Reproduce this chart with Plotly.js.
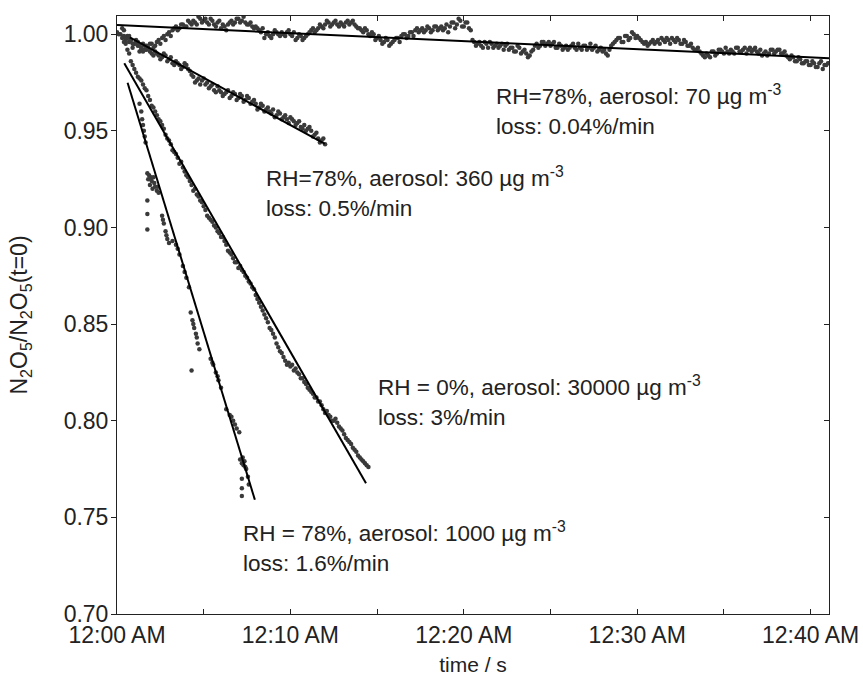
<!DOCTYPE html>
<html>
<head>
<meta charset="utf-8">
<script src="https://cdn.plot.ly/plotly-3.0.1.min.js"></script>
<style>html,body{margin:0;padding:0;background:#fff;}#chart{width:863px;height:679px;}</style>
</head>
<body>
<div id="chart"></div>
<script>
// ---- data (time in minutes after 12:00 AM) ----
var tickMinutes = [0, 10, 20, 30, 40];
var tickLabels = ['12:00 AM', '12:10 AM', '12:20 AM', '12:30 AM', '12:40 AM'];
var minorMinutes = [5, 15, 25, 35];

// RH=78%, 70 ug/m3 : two interleaved sample sets (min, 0.2 min spacing)
var s1Start = 0.0, s1Step = 0.2;
var s1Values = [
  1.001, 1.000, 1.002, 0.999, 0.997, 0.995, 0.994, 0.992, 0.994, 0.993,
  0.995, 0.994, 0.997, 0.998, 0.997, 1.001, 1.002, 1.004, 1.003, 1.005,
  1.004, 1.006, 1.007, 1.005, 1.008, 1.007, 1.006, 1.008, 1.005, 1.006,
  1.003, 1.004, 1.005, 1.007, 1.006, 1.008, 1.007, 1.006, 1.005, 1.004,
  1.004, 1.002, 1.003, 1.000, 0.999, 1.000, 1.001, 0.999, 1.000, 1.001,
  1.000, 1.001, 0.998, 0.999, 0.998, 1.000, 1.002, 1.001, 1.003, 1.004,
  1.005, 1.006, 1.005, 1.007, 1.004, 1.005, 1.006, 1.005, 1.007, 1.004,
  1.003, 1.001, 1.002, 0.999, 1.000, 0.998, 0.997, 0.996, 0.997, 0.995,
  0.997, 0.998, 0.999, 1.000, 0.999, 1.001, 1.002, 1.001, 1.003, 1.002,
  1.003, 1.002, 1.004, 1.003, 1.002, 1.005, 1.004, 1.006, 1.005, 1.007,
  1.004, 1.006, 1.002, 0.996, 0.995, 0.994, 0.996, 0.993, 0.995, 0.994,
  0.993, 0.995, 0.994, 0.992, 0.993, 0.991, 0.993, 0.991, 0.990, 0.989,
  0.992, 0.995, 0.994, 0.996, 0.995, 0.994, 0.996, 0.993, 0.994, 0.993,
  0.992, 0.994, 0.993, 0.995, 0.992, 0.994, 0.993, 0.992, 0.994, 0.992,
  0.991, 0.990, 0.992, 0.995, 0.997, 0.998, 0.996, 0.999, 0.998, 1.000,
  0.999, 0.997, 0.995, 0.994, 0.996, 0.995, 0.997, 0.998, 0.996, 0.997,
  0.998, 0.996, 0.997, 0.995, 0.996, 0.994, 0.993, 0.992, 0.991, 0.989,
  0.990, 0.988, 0.991, 0.990, 0.992, 0.990, 0.991, 0.992, 0.990, 0.993,
  0.991, 0.993, 0.992, 0.991, 0.993, 0.990, 0.989, 0.991, 0.990, 0.992,
  0.991, 0.992, 0.990, 0.989, 0.987, 0.988, 0.986, 0.987, 0.985, 0.986,
  0.984, 0.985, 0.983, 0.986, 0.984, 0.985
];
var s1bStart = 0.1, s1bStep = 0.2;
var s1bValues = [
  1.000, 1.003, 0.998, 0.996, 0.993, 0.996, 0.991, 0.995, 0.992, 0.995,
  0.993, 0.996, 0.995, 0.999, 1.000, 0.999, 1.003, 1.002, 1.005, 1.004,
  1.007, 1.005, 1.006, 1.009, 1.006, 1.008, 1.005, 1.007, 1.004, 1.007,
  1.005, 1.002, 1.006, 1.005, 1.008, 1.006, 1.009, 1.005, 1.006, 1.003,
  1.003, 1.001, 0.998, 1.001, 0.998, 1.002, 1.000, 1.001, 0.999, 1.002,
  0.999, 0.997, 1.000, 0.997, 0.999, 1.001, 1.003, 1.002, 1.005, 1.003,
  1.007, 1.004, 1.006, 1.005, 1.006, 1.004, 1.007, 1.006, 1.005, 1.003,
  1.002, 1.003, 1.000, 1.001, 0.997, 0.999, 0.995, 0.998, 0.994, 0.996,
  0.998, 0.996, 1.000, 0.998, 1.001, 0.999, 1.003, 1.002, 1.001, 1.004,
  1.001, 1.004, 1.002, 1.004, 1.003, 1.001, 1.006, 1.003, 1.008, 1.004,
  1.006, 1.003, 0.997, 0.994, 0.996, 0.993, 0.995, 0.996, 0.993, 0.995,
  0.994, 0.992, 0.995, 0.993, 0.991, 0.994, 0.990, 0.992, 0.988, 0.991,
  0.994, 0.993, 0.996, 0.994, 0.996, 0.995, 0.993, 0.995, 0.992, 0.994,
  0.993, 0.995, 0.992, 0.993, 0.994, 0.992, 0.995, 0.993, 0.991, 0.993,
  0.992, 0.989, 0.994, 0.996, 0.998, 0.996, 0.999, 0.997, 1.001, 0.998,
  0.998, 0.996, 0.996, 0.995, 0.997, 0.996, 0.995, 0.997, 0.998, 0.995,
  0.997, 0.998, 0.995, 0.997, 0.994, 0.995, 0.992, 0.993, 0.990, 0.988,
  0.989, 0.991, 0.989, 0.992, 0.991, 0.993, 0.990, 0.991, 0.993, 0.991,
  0.992, 0.990, 0.993, 0.992, 0.991, 0.992, 0.990, 0.989, 0.992, 0.990,
  0.992, 0.990, 0.991, 0.988, 0.989, 0.986, 0.988, 0.985, 0.986, 0.984,
  0.986, 0.983, 0.985, 0.982, 0.984
];

// RH=78%, 360 ug/m3
var s2Start = 0.4, s2Step = 0.2;
var s2Values = [
  0.999, 0.998, 0.997, 0.995, 0.996, 0.993, 0.992, 0.993, 0.990, 0.991,
  0.989, 0.988, 0.989, 0.987, 0.985, 0.986, 0.984, 0.983, 0.984, 0.981,
  0.978, 0.976, 0.974, 0.977, 0.975, 0.973, 0.971, 0.973, 0.970, 0.969,
  0.971, 0.968, 0.969, 0.967, 0.968, 0.966, 0.967, 0.965, 0.964, 0.962,
  0.963, 0.961, 0.960, 0.961, 0.958, 0.959, 0.957, 0.956, 0.957, 0.955,
  0.954, 0.952, 0.953, 0.951, 0.950, 0.948, 0.946, 0.945, 0.943
];
var s2bStart = 0.5, s2bStep = 0.2;
var s2bValues = [
  0.997, 0.999, 0.995, 0.997, 0.994, 0.991, 0.994, 0.991, 0.989, 0.990,
  0.987, 0.990, 0.986, 0.988, 0.984, 0.985, 0.982, 0.985, 0.982, 0.979,
  0.975, 0.977, 0.976, 0.974, 0.972, 0.974, 0.970, 0.971, 0.968, 0.970,
  0.967, 0.970, 0.966, 0.969, 0.965, 0.968, 0.964, 0.966, 0.961, 0.964,
  0.960, 0.962, 0.959, 0.957, 0.960, 0.956, 0.958, 0.954, 0.956, 0.953,
  0.955, 0.951, 0.950, 0.952, 0.947, 0.949, 0.944, 0.946
];

// RH=0%, 30000 ug/m3
var s3Start = 0.3, s3Step = 0.2;
var s3Values = [
  0.998, 0.995, 0.990, 0.984, 0.980, 0.977, 0.974, 0.971, 0.966, 0.962,
  0.958, 0.955, 0.951, 0.946, 0.943, 0.939, 0.936, 0.934, 0.929, 0.926,
  0.922, 0.920, 0.916, 0.913, 0.909, 0.905, 0.903, 0.900, 0.897, 0.895,
  0.891, 0.887, 0.884, 0.882, 0.880, 0.877, 0.874, 0.871, 0.868, 0.863,
  0.859, 0.855, 0.851, 0.847, 0.843, 0.838, 0.835, 0.831, 0.830, 0.829,
  0.827, 0.824, 0.822, 0.819, 0.816, 0.814, 0.812, 0.810, 0.806, 0.805,
  0.802, 0.800, 0.799, 0.796, 0.793, 0.790, 0.788, 0.785, 0.782, 0.780,
  0.778, 0.776
];
var s3bStart = 0.4, s3bStep = 0.2;
var s3bValues = [
  0.996, 0.992, 0.986, 0.982, 0.978, 0.976, 0.972, 0.968, 0.963, 0.960,
  0.956, 0.953, 0.948, 0.945, 0.940, 0.938, 0.933, 0.931, 0.927, 0.924,
  0.919, 0.917, 0.914, 0.911, 0.906, 0.904, 0.901, 0.898, 0.895, 0.893,
  0.888, 0.886, 0.882, 0.879, 0.878, 0.875, 0.872, 0.869, 0.865, 0.861,
  0.857, 0.853, 0.848, 0.845, 0.840, 0.836, 0.833, 0.829, 0.828, 0.826,
  0.825, 0.822, 0.820, 0.817, 0.815, 0.812, 0.810, 0.808, 0.804, 0.803,
  0.800, 0.801, 0.797, 0.795, 0.791, 0.789, 0.786, 0.784, 0.781, 0.779,
  0.777
];

// RH=78%, 1000 ug/m3 (irregular samples)
var s4Times = [
  1.3, 1.4, 1.45, 1.5, 1.55, 1.6, 1.65,
  1.75, 1.8, 1.85, 1.9, 2.0, 2.05, 2.1, 2.2, 2.3, 2.4, 1.95, 2.15, 2.35,
  1.75, 1.75, 1.75,
  2.6, 2.7, 2.8, 2.9, 3.0, 3.2, 3.4, 3.6, 3.8, 4.0, 4.15, 2.65, 2.85, 3.5, 3.9,
  4.25, 4.35, 4.45, 4.55, 4.65, 4.75, 4.3, 4.4, 4.6,
  5.4, 5.55, 5.7, 5.85, 6.0, 5.5, 5.8,
  6.3, 6.5, 6.7, 6.9, 7.05, 6.6, 6.8,
  7.1, 7.2, 7.3, 7.35, 7.45, 7.55, 7.2, 7.2, 7.2, 7.6, 7.25, 7.4
];
var s4Values = [
  0.964, 0.960, 0.956, 0.953, 0.950, 0.947, 0.944,
  0.928, 0.925, 0.927, 0.922, 0.924, 0.920, 0.926, 0.921, 0.919, 0.918, 0.926, 0.923, 0.921,
  0.914, 0.907, 0.899,
  0.906, 0.902, 0.898, 0.894, 0.892, 0.893, 0.891, 0.886, 0.880, 0.874, 0.869, 0.904, 0.896, 0.889, 0.877,
  0.856, 0.852, 0.848, 0.845, 0.840, 0.837, 0.826, 0.850, 0.843,
  0.832, 0.829, 0.825, 0.821, 0.817, 0.830, 0.823,
  0.806, 0.803, 0.800, 0.796, 0.794, 0.802, 0.798,
  0.780, 0.778, 0.777, 0.779, 0.775, 0.771, 0.770, 0.765, 0.761, 0.767, 0.781, 0.776
];

// linear fits: [start, end]
var fit1T = [0.0, 41.06], fit1V = [1.0047, 0.9876];
var fit2T = [0.74, 11.99], fit2V = [0.9983, 0.9432];
var fit3T = [0.42, 14.36], fit3V = [0.9849, 0.7677];
var fit4T = [0.61, 7.95], fit4V = [0.9749, 0.7591];

var labels = [
  'RH=78%, aerosol: 70 µg m<sup>-3</sup><br>loss: 0.04%/min',
  'RH=78%, aerosol: 360 µg m<sup>-3</sup><br>loss: 0.5%/min',
  'RH = 0%, aerosol: 30000 µg m<sup>-3</sup><br>loss: 3%/min',
  'RH = 78%, aerosol: 1000 µg m<sup>-3</sup><br>loss: 1.6%/min'
];

// ---- build ----
function clock(start, step, n) {
  var out = [];
  for (var i = 0; i < n; i++) out.push(+(start + i * step).toFixed(3));
  return out;
}
var FONT = 'Liberation Sans, Arial, Helvetica, sans-serif';
var dotMarker = {size: 4.5, color: '#3a3a3a'};
function dots(x, y) {
  return {x: x, y: y, mode: 'markers', type: 'scatter', marker: dotMarker, hoverinfo: 'skip'};
}
function fit(x, y, axis) {
  return {x: x, y: y, mode: 'lines', type: 'scatter', line: {color: '#000', width: 2}, yaxis: axis || 'y'};
}

var traces = [
  dots(clock(s1Start, s1Step, s1Values.length), s1Values),
  dots(clock(s1bStart, s1bStep, s1bValues.length), s1bValues),
  dots(clock(s2Start, s2Step, s2Values.length), s2Values),
  dots(clock(s2bStart, s2bStep, s2bValues.length), s2bValues),
  dots(clock(s3Start, s3Step, s3Values.length), s3Values),
  dots(clock(s3bStart, s3bStep, s3bValues.length), s3bValues),
  dots(s4Times, s4Values),
  fit(fit1T, fit1V, 'y2'),
  fit(fit2T, fit2V),
  fit(fit3T, fit3V),
  fit(fit4T, fit4V)
];

var yRange = [0.70, 1.0094];
var annPos = [[21.74, 0.9608], [8.45, 0.9181], [14.93, 0.8103], [7.15, 0.7345]];
var annotations = labels.map(function (t, i) {
  return {text: t, x: annPos[i][0], y: annPos[i][1], xref: 'x', yref: 'y',
    xanchor: 'left', yanchor: 'middle', align: 'left', showarrow: false,
    font: {family: FONT, size: 22.5, color: '#222'}};
});

var layout = {
  width: 863, height: 679,
  margin: {l: 117, r: 34, t: 16, b: 65},
  paper_bgcolor: '#fff', plot_bgcolor: '#fff',
  showlegend: false,
  font: {family: FONT, color: '#222'},
  xaxis: {
    range: [0, 41.06], tickvals: tickMinutes, ticktext: tickLabels,
    ticks: 'inside', ticklen: 5, tickwidth: 1, tickcolor: '#222',
    showline: true, linecolor: '#222', linewidth: 1, mirror: 'ticks',
    showgrid: false, zeroline: false,
    minor: {tickvals: minorMinutes, ticks: 'inside', ticklen: 5, tickcolor: '#222', showgrid: false},
    tickfont: {family: FONT, size: 23, color: '#222'},
    title: {text: 'time / s', font: {family: FONT, size: 21, color: '#222'}, standoff: 10}
  },
  yaxis: {
    range: yRange, tick0: 0.70, dtick: 0.05, tickformat: '.2f',
    ticks: 'outside', ticklen: 5, tickwidth: 1, tickcolor: '#222',
    ticklabelstandoff: -2,
    showline: true, linecolor: '#222', linewidth: 1,
    showgrid: false, zeroline: false,
    tickfont: {family: FONT, size: 23, color: '#222'},
    title: {text: 'N<sub>2</sub>O<sub>5</sub>/N<sub>2</sub>O<sub>5</sub>(t=0)', font: {family: FONT, size: 23, color: '#222'}, standoff: 29}
  },
  yaxis2: {
    overlaying: 'y', side: 'right', range: yRange, tick0: 0.70, dtick: 0.05,
    ticks: 'inside', ticklen: 5, tickwidth: 1, tickcolor: '#222',
    showticklabels: false, showline: true, linecolor: '#222', linewidth: 1,
    showgrid: false, zeroline: false
  },
  annotations: annotations
};

Plotly.newPlot('chart', traces, layout, {displayModeBar: false, staticPlot: true});
</script>
</body>
</html>
